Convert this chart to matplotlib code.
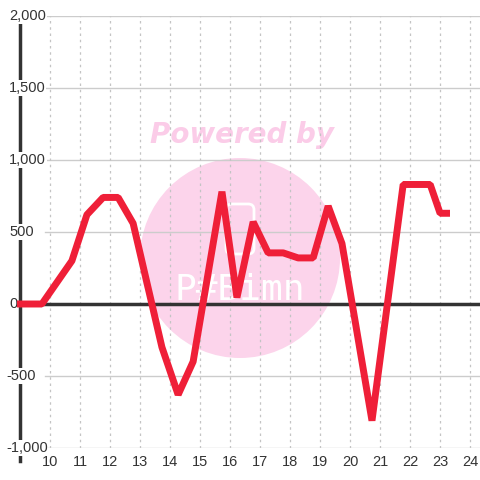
import matplotlib
matplotlib.use('Agg')
import matplotlib.pyplot as plt
from matplotlib.patches import Circle, FancyBboxPatch

# hour of day vs. value
hours = [8.9, 9.73, 10.73, 11.23, 11.77, 12.27, 12.77, 13.73, 14.27, 14.77,
         15.73, 16.23, 16.77, 17.27, 17.77, 18.27, 18.77, 19.27, 19.73, 20.73,
         21.77, 22.67, 23.0, 23.33]
values = [0, 0, 300, 620, 740, 740, 560, -300, -630, -400,
          780, 45, 570, 355, 355, 320, 320, 680, 420, -810,
          830, 830, 630, 630]

x_ticks = list(range(10, 25))
y_ticks = [-1000, -500, 0, 500, 1000, 1500, 2000]
y_labels = ['-1,000', '-500', '0', '500', '1,000', '1,500', '2,000']

xmin, xmax = 9.0, 24.33
ymin, ymax = -1000, 2000
dark = '#333333'

fig = plt.figure(figsize=(4.8, 4.8), dpi=100)
ax = fig.add_axes([20 / 480, 1 - 448 / 480, 460 / 480, 432 / 480])
ax.set_xlim(xmin, xmax)
ax.set_ylim(ymin, ymax)
for s in ax.spines.values():
    s.set_visible(False)
ax.set_xticks([])
ax.set_yticks([])

# watermark
ft = fig.transFigure
ax.add_patch(Circle((240 / 480, 1 - 258 / 480), 100 / 480, transform=ft,
                    facecolor='#fcd4eb', edgecolor='none', zorder=0, clip_on=False))
ax.add_patch(FancyBboxPatch((226 / 480, 1 - 254 / 480), 28 / 480, 50 / 480,
                            boxstyle='round,pad=0,rounding_size=0.012', transform=ft,
                            facecolor='none', edgecolor='white', lw=2, zorder=0.1,
                            clip_on=False))
ax.text(242 / 480, 1 - 135 / 480, 'Powered by', transform=ft, ha='center', va='center',
        fontsize=20, fontweight='bold', style='italic', color='#fbcce8', zorder=0.2)
ax.text(240 / 480, 1 - 290 / 480, 'P#Bimn', transform=ft, ha='center', va='center',
        fontsize=26, family='DejaVu Sans Mono', color='white', zorder=0.2)

# grid
grid_start = xmin + 25 / 30
for yv in y_ticks:
    if yv != 0:
        ax.plot([grid_start, xmax], [yv, yv], color='#cccccc', lw=1, zorder=1)
for xv in x_ticks:
    ax.plot([xv, xv], [ymin, ymax], color='#c4c4c4', lw=0.9, ls=(0, (2, 3)), zorder=1)

# axes lines
ax.plot([xmin, xmin], [ymin - 90, ymax - 50], color=dark, lw=2.5, zorder=2, clip_on=False)
ax.plot([xmin, xmax], [0, 0], color=dark, lw=2.5, zorder=2, clip_on=False)

# data
ax.plot(hours, values, color='#ef1f38', lw=5, solid_joinstyle='bevel',
        solid_capstyle='butt', zorder=3, clip_on=False)

# tick labels
for yv, lab in zip(y_ticks, y_labels):
    x0 = xmin - 14 / 30 if yv < 0 else xmin - 14 / 30 + 3 / 30
    ax.text(x0, yv, lab, ha='left', va='center', fontsize=10.5,
            family='Liberation Sans', color=dark, zorder=2.5, clip_on=False,
            bbox=dict(facecolor='white', edgecolor='none', pad=0.5))
for xv in x_ticks:
    ax.text(xv, ymin - 14 / 0.144, str(xv), ha='center', va='center', fontsize=10.5,
            family='Liberation Sans', color=dark)

fig.savefig('out.png', dpi=100)
